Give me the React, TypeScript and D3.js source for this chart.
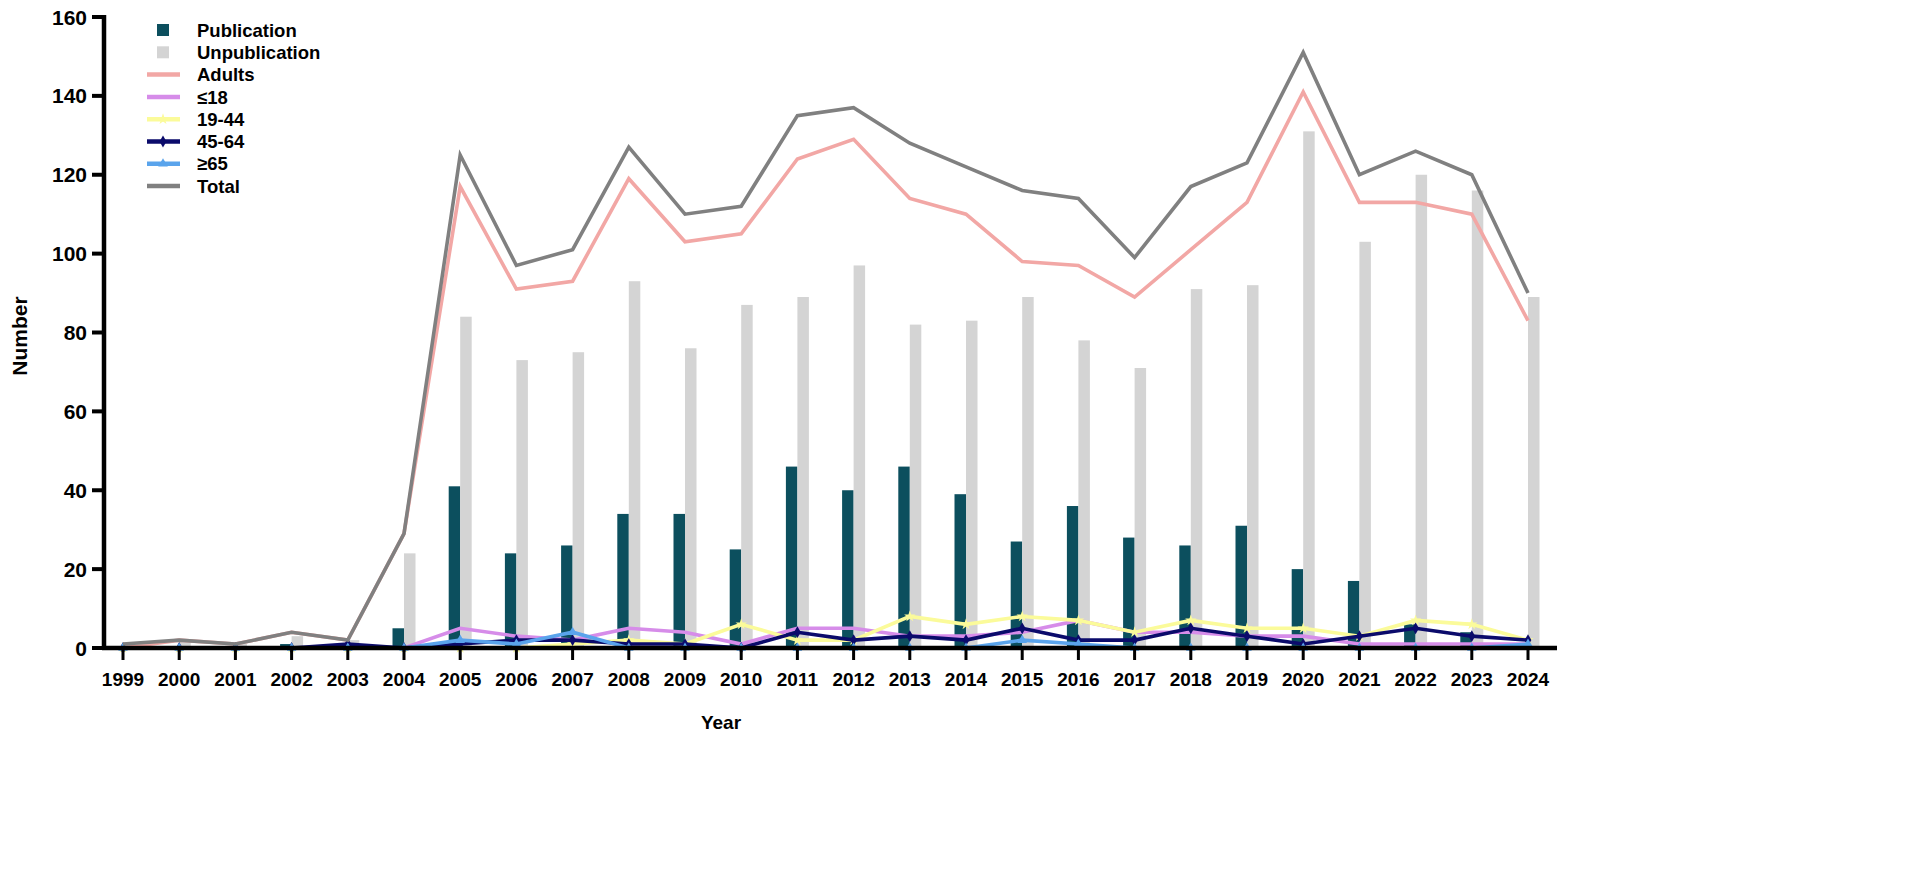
import { useRef, useEffect } from "react";
import * as d3 from "d3";

const years = [
  1999, 2000, 2001, 2002, 2003, 2004, 2005, 2006, 2007, 2008, 2009, 2010, 2011,
  2012, 2013, 2014, 2015, 2016, 2017, 2018, 2019, 2020, 2021, 2022, 2023, 2024,
];
const publication = [0, 0, 0, 1, 0, 5, 41, 24, 26, 34, 34, 25, 46, 40, 46, 39, 27, 36, 28, 26, 31, 20, 17, 6, 4, 1];
const unpublication = [1, 2, 1, 3, 2, 24, 84, 73, 75, 93, 76, 87, 89, 97, 82, 83, 89, 78, 71, 91, 92, 131, 103, 120, 116, 89];
const adults = [0, 2, 1, 4, 2, 29, 117, 91, 93, 119, 103, 105, 124, 129, 114, 110, 98, 97, 89, 101, 113, 141, 113, 113, 110, 83];
const under18 = [0, 0, 0, 0, 0, 0, 5, 3, 2, 5, 4, 1, 5, 5, 3, 3, 4, 7, 4, 4, 3, 3, 1, 1, 1, 1];
const age19to44 = [0, 0, 0, 0, 0, 0, 0, 0, 1, 2, 1, 6, 2, 2, 8, 6, 8, 7, 4, 7, 5, 5, 3, 7, 6, 2];
const age45to64 = [0, 0, 0, 0, 1, 0, 1, 2, 2, 1, 1, 0, 4, 2, 3, 2, 5, 2, 2, 5, 3, 1, 3, 5, 3, 2];
const over65 = [0, 0, 0, 0, 0, 0, 2, 1, 4, 0, 0, 0, 0, 0, 0, 0, 2, 1, 0, 0, 0, 0, 0, 0, 0, 1];
const total = [1, 2, 1, 4, 2, 29, 125, 97, 101, 127, 110, 112, 135, 137, 128, 122, 116, 114, 99, 117, 123, 151, 120, 126, 120, 90];
const yTicks = [0, 20, 40, 60, 80, 100, 120, 140, 160];

const FONT = "'Liberation Sans', Arial, sans-serif";

export default function App() {
  const svgRef = useRef<SVGSVGElement>(null);

  useEffect(() => {
    if (!svgRef.current) return;
    const width = 1908;
    const height = 895;
    const svg = d3.select(svgRef.current);
    svg.selectAll("*").remove();
    svg.attr("width", width).attr("height", height);

    const x = d3.scaleLinear().domain([1999, 2024]).range([123, 1528]);
    const y = d3.scaleLinear().domain([0, 160]).range([648, 17]);
    const barW = 11.5;

    // bars
    svg.append("g")
      .selectAll("rect")
      .data(years)
      .join("rect")
      .attr("x", (d) => x(d) - barW)
      .attr("y", (_, i) => y(publication[i]))
      .attr("width", barW)
      .attr("height", (_, i) => y(0) - y(publication[i]))
      .attr("fill", "#0c4f5e");

    svg.append("g")
      .selectAll("rect")
      .data(years)
      .join("rect")
      .attr("x", (d) => x(d))
      .attr("y", (_, i) => y(unpublication[i]))
      .attr("width", barW)
      .attr("height", (_, i) => y(0) - y(unpublication[i]))
      .attr("fill", "#d4d4d4");

    const series = [
      { name: "Adults", values: adults, color: "#f2a7a5", marker: null },
      { name: "≤18", values: under18, color: "#d68ce9", marker: null },
      { name: "19-44", values: age19to44, color: "#fbfb9a", marker: d3.symbolStar },
      { name: "45-64", values: age45to64, color: "#0b0b6b", marker: d3.symbolDiamond },
      { name: "≥65", values: over65, color: "#5aa4ec", marker: d3.symbolTriangle },
      { name: "Total", values: total, color: "#808080", marker: null },
    ];

    const line = d3
      .line<number>()
      .x((_, i) => x(years[i]))
      .y((d) => y(d));

    series.forEach((s) => {
      svg.append("path")
        .datum(s.values)
        .attr("d", line)
        .attr("fill", "none")
        .attr("stroke", s.color)
        .attr("stroke-width", 3.6)
        .attr("stroke-linejoin", "miter");
      if (s.marker) {
        svg.append("g")
          .selectAll("path")
          .data(s.values)
          .join("path")
          .attr("transform", (d, i) => `translate(${x(years[i])},${y(d)})`)
          .attr("d", d3.symbol().type(s.marker).size(40)())
          .attr("fill", s.color);
      }
    });

    // y axis
    const yAxis = svg.append("g");
    yAxis.append("line")
      .attr("x1", 104).attr("x2", 104)
      .attr("y1", y(160) - 2).attr("y2", y(0) + 2)
      .attr("stroke", "#000").attr("stroke-width", 4.5);
    yAxis.selectAll("line.tick")
      .data(yTicks)
      .join("line")
      .attr("class", "tick")
      .attr("x1", 92).attr("x2", 104)
      .attr("y1", (d) => y(d)).attr("y2", (d) => y(d))
      .attr("stroke", "#000").attr("stroke-width", 4);
    yAxis.selectAll("text")
      .data(yTicks)
      .join("text")
      .attr("x", 87)
      .attr("y", (d) => y(d))
      .attr("dy", "0.36em")
      .attr("text-anchor", "end")
      .style("font-family", FONT)
      .style("font-weight", "bold")
      .style("font-size", "21px")
      .text((d) => d);

    // x axis
    const xAxis = svg.append("g");
    xAxis.append("line")
      .attr("x1", 102).attr("x2", 1557)
      .attr("y1", y(0)).attr("y2", y(0))
      .attr("stroke", "#000").attr("stroke-width", 4.5);
    xAxis.selectAll("line.tick")
      .data(years)
      .join("line")
      .attr("class", "tick")
      .attr("x1", (d) => x(d)).attr("x2", (d) => x(d))
      .attr("y1", y(0)).attr("y2", y(0) + 12)
      .attr("stroke", "#000").attr("stroke-width", 3);
    xAxis.selectAll("text")
      .data(years)
      .join("text")
      .attr("x", (d) => x(d))
      .attr("y", 686)
      .attr("text-anchor", "middle")
      .style("font-family", FONT)
      .style("font-weight", "bold")
      .style("font-size", "19px")
      .text((d) => d);

    svg.append("text")
      .attr("x", 721)
      .attr("y", 729)
      .attr("text-anchor", "middle")
      .style("font-family", FONT)
      .style("font-weight", "bold")
      .style("font-size", "19px")
      .text("Year");

    svg.append("text")
      .attr("transform", "translate(27,336) rotate(-90)")
      .attr("text-anchor", "middle")
      .style("font-family", FONT)
      .style("font-weight", "bold")
      .style("font-size", "21px")
      .text("Number");

    // legend
    const legend = svg.append("g");
    const legendItems = [
      { name: "Publication", color: "#0c4f5e", type: "box", marker: null },
      { name: "Unpublication", color: "#d4d4d4", type: "box", marker: null },
      ...series.map((s) => ({ name: s.name, color: s.color, type: "line", marker: s.marker })),
    ];
    legendItems.forEach((item, i) => {
      const cy = 30 + i * 22.3;
      if (item.type === "box") {
        legend.append("rect")
          .attr("x", 157).attr("y", cy - 6)
          .attr("width", 12).attr("height", 12)
          .attr("fill", item.color);
      } else {
        legend.append("line")
          .attr("x1", 147).attr("x2", 180)
          .attr("y1", cy).attr("y2", cy)
          .attr("stroke", item.color).attr("stroke-width", 4.5);
        if (item.marker) {
          legend.append("path")
            .attr("transform", `translate(163,${cy})`)
            .attr("d", d3.symbol().type(item.marker).size(40)())
            .attr("fill", item.color);
        }
      }
      legend.append("text")
        .attr("x", 197)
        .attr("y", cy)
        .attr("dy", "0.36em")
        .style("font-family", FONT)
        .style("font-weight", "bold")
        .style("font-size", "18.5px")
        .text(item.name);
    });
  }, []);

  return <svg ref={svgRef} style={{ position: "absolute", left: 0, top: 0 }} />;
}
